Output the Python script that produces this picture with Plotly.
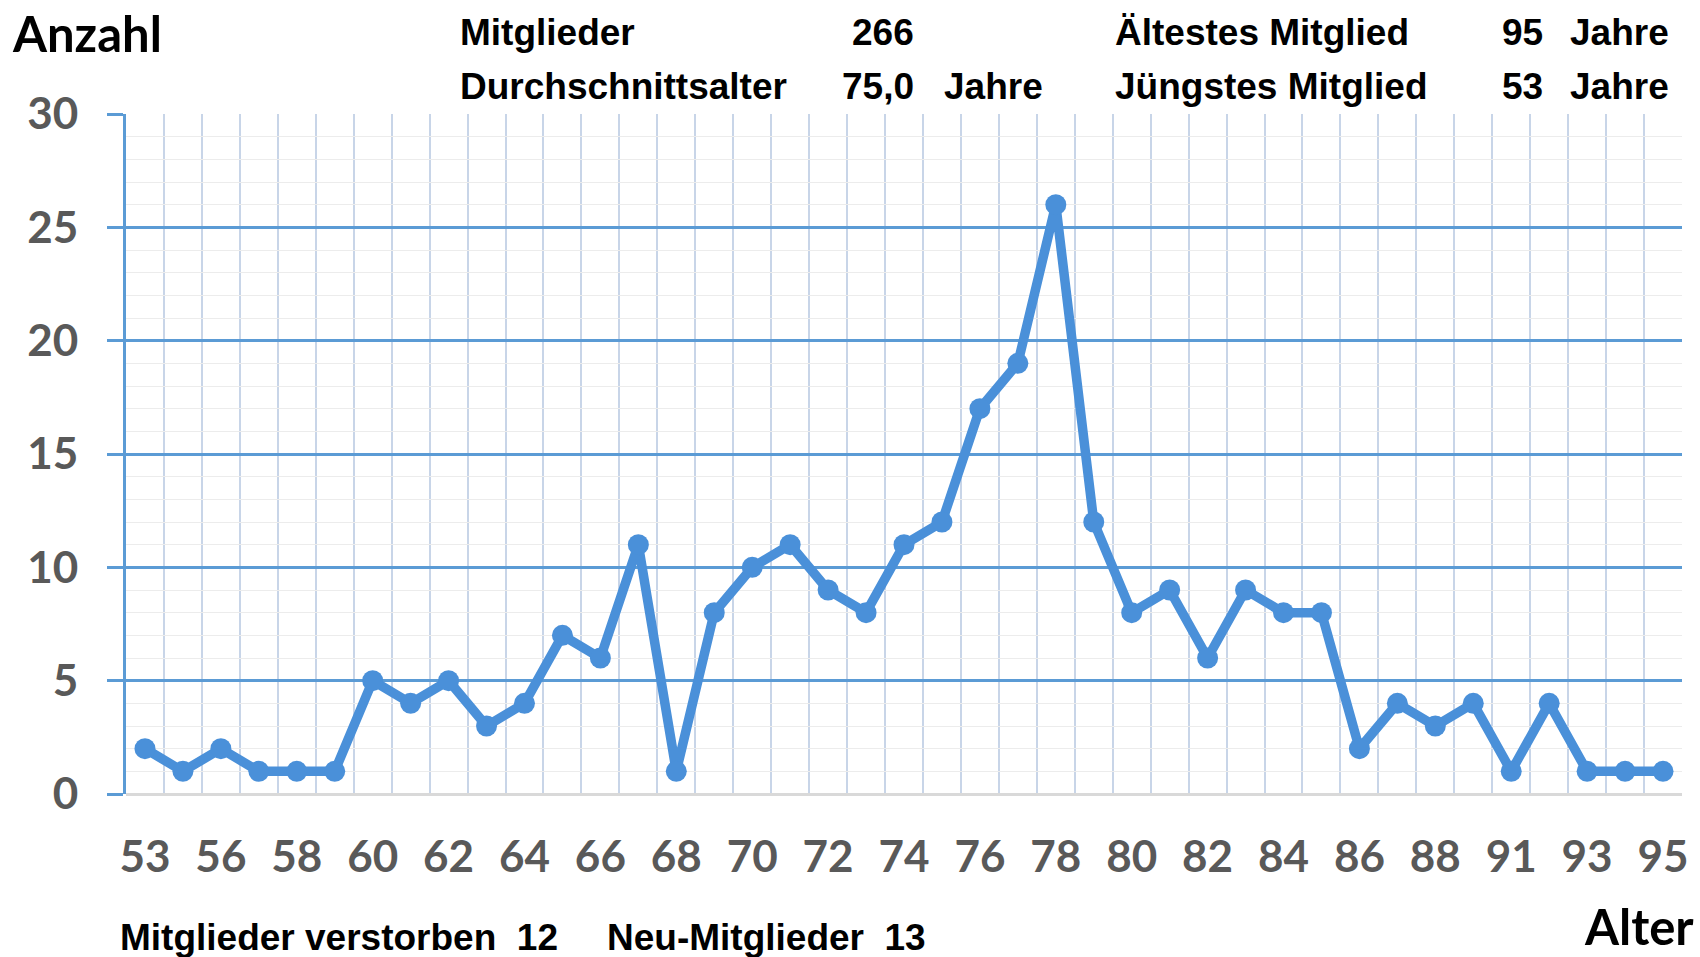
import plotly.graph_objects as go

# ---- data ----
ages = [53, 55, 56, 57, 58, 59, 60, 61, 62, 63, 64, 65, 66, 67, 68, 69, 70, 71, 72, 73,
        74, 75, 76, 77, 78, 79, 80, 81, 82, 83, 84, 85, 86, 87, 88, 90, 91, 92, 93, 94, 95]
counts = [2, 1, 2, 1, 1, 1, 5, 4, 5, 3, 4, 7, 6, 11, 1, 8, 10, 11, 9, 8,
          11, 12, 17, 19, 26, 12, 8, 9, 6, 9, 8, 8, 2, 4, 3, 4, 1, 4, 1, 1, 1]
y_ticks = [0, 5, 10, 15, 20, 25, 30]

stats_left_labels = ["Mitglieder", "Durchschnittsalter"]
stats_left_values = ["266", "75,0"]
stats_left_units = ["", "Jahre"]
stats_right_labels = ["Ältestes Mitglied", "Jüngstes Mitglied"]
stats_right_values = ["95", "53"]
stats_right_units = ["Jahre", "Jahre"]
footer_texts = ["Mitglieder verstorben  12", "Neu-Mitglieder  13"]

# ---- layout geometry (pixels) ----
W, H = 1700, 957
L, R, T, B = 126, 1682, 114, 794

def px(x):
    return (x - L) / (R - L)

def py(y):
    return (B - y) / (B - T)

idx = list(range(len(ages)))
tickvals = idx[::2]
ticktext = [str(ages[i]) for i in tickvals]

LINE = "#4a90d9"
fig = go.Figure()
fig.add_trace(go.Scatter(
    x=idx, y=counts, mode="lines+markers",
    line=dict(color=LINE, width=9.5),
    marker=dict(color=LINE, size=21),
    hoverinfo="skip", showlegend=False, cliponaxis=False,
))

tick_font = dict(family="Lato, Open Sans, sans-serif", size=44, color="#595959", weight="bold")
txt_font = dict(family="Liberation Sans, Arial, sans-serif", size=37, color="black", weight="bold")
big_font = dict(family="Lato, Open Sans, sans-serif", size=49, color="black", weight="bold")

fig.update_layout(
    width=W, height=H,
    margin=dict(l=L, r=W - R, t=T, b=H - B, pad=0),
    paper_bgcolor="white", plot_bgcolor="white",
    xaxis=dict(
        range=[-0.5, len(ages) - 0.5],
        tickmode="array", tickvals=tickvals, ticktext=ticktext,
        showgrid=False, zeroline=False, showline=False, ticks="",
        tickfont=tick_font, ticklabelstandoff=33,
        minor=dict(tick0=-0.5, dtick=1, showgrid=True, gridcolor="#c8d5e8", gridwidth=2, ticks=""),
    ),
    yaxis=dict(
        range=[0, 30],
        tickmode="array", tickvals=y_ticks,
        showgrid=True, gridcolor="#5b9bd5", gridwidth=3,
        zeroline=True, zerolinecolor="#d9d9d9", zerolinewidth=3,
        showline=True, linecolor="#5b9bd5", linewidth=3,
        ticks="outside", ticklen=16, tickwidth=3, tickcolor="#5b9bd5",
        tickfont=tick_font, ticklabelstandoff=20,
        minor=dict(tick0=0, dtick=1, showgrid=True, gridcolor="#ececec", gridwidth=1, ticks=""),
    ),
)

ann = []
def add(text, x, y, xanchor="left", font=txt_font):
    ann.append(dict(text=text, x=px(x), y=py(y), xref="paper", yref="paper",
                    xanchor=xanchor, yanchor="middle", showarrow=False, font=font))

add("Anzahl", 10, 33, font=big_font)
rows_y = [33, 87]
for i, ry in enumerate(rows_y):
    add(stats_left_labels[i], 458, ry)
    add(stats_left_values[i], 916, ry, xanchor="right")
    if stats_left_units[i]:
        add(stats_left_units[i], 942, ry)
    add(stats_right_labels[i], 1113, ry)
    add(stats_right_values[i], 1545, ry, xanchor="right")
    add(stats_right_units[i], 1568, ry)
add(footer_texts[0], 118, 937)
add(footer_texts[1], 605, 937)
add("Alter", 1696, 926, xanchor="right", font=big_font)

fig.update_layout(annotations=ann)
fig.write_html("out.html", config={"displayModeBar": False},
               post_script="document.body.style.margin='0px';document.body.style.overflow='hidden';")
